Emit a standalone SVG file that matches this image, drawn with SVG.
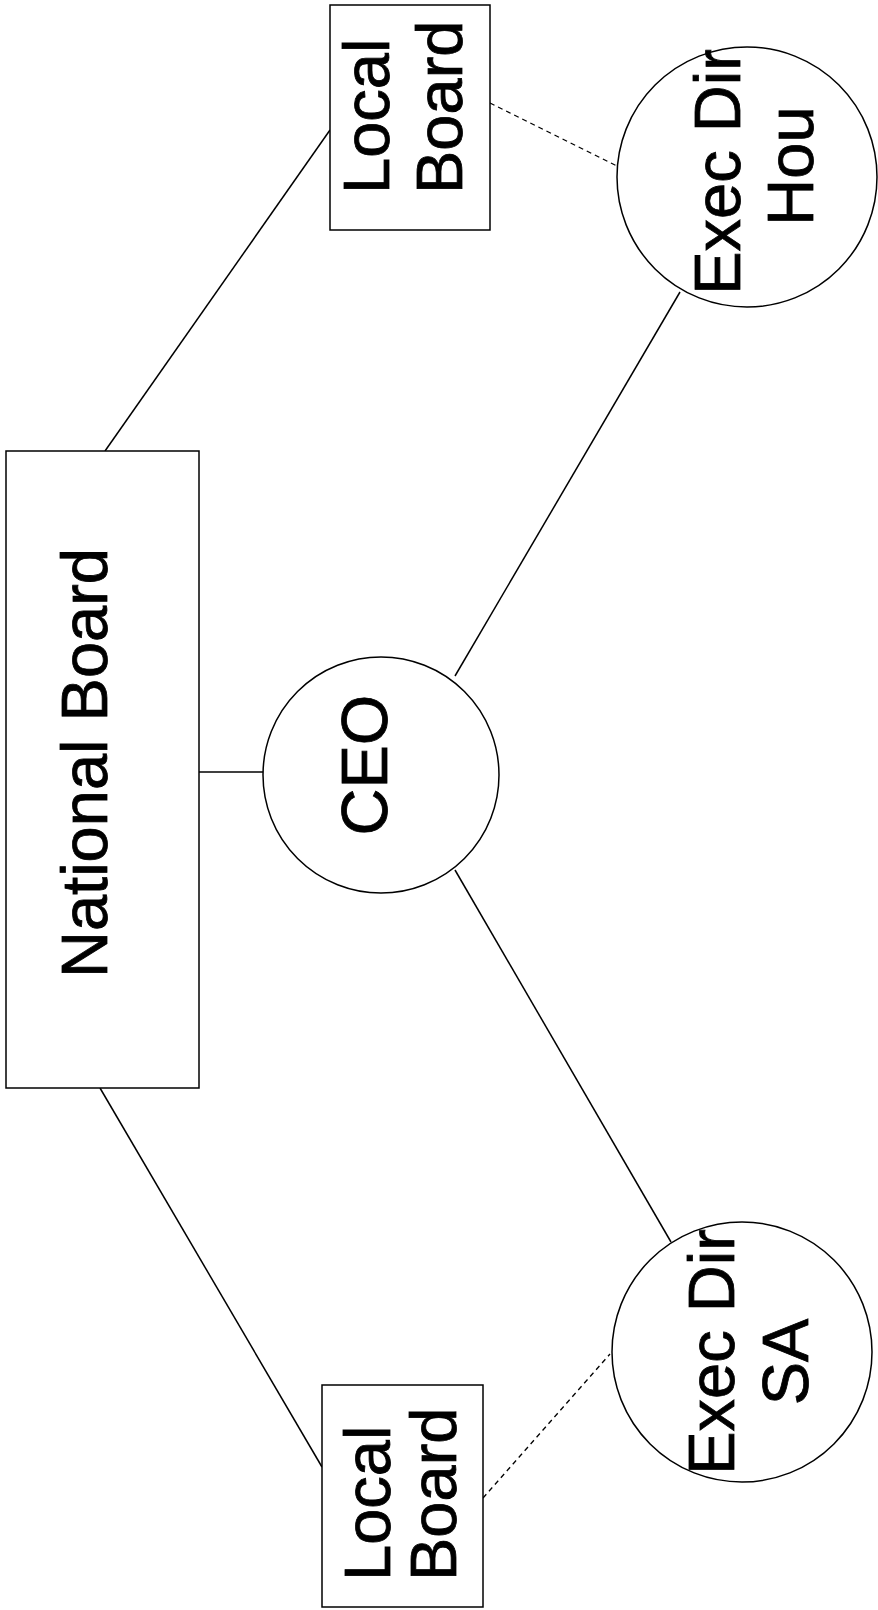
<svg xmlns="http://www.w3.org/2000/svg" width="878" height="1610" viewBox="0 0 878 1610">
<style>
.box{fill:#fff;stroke:#000;stroke-width:1.5}
.ln{stroke:#000;stroke-width:1.5;fill:none}
.dash{stroke:#000;stroke-width:1.3;fill:none;stroke-dasharray:5 4}
.t{font-family:"Liberation Sans",Arial,sans-serif;font-size:65px;fill:#000;stroke:#000;stroke-width:0.8}
</style>
<rect width="878" height="1610" fill="#fff"/>
<g id="connectors">
<line class="ln" x1="105" y1="451" x2="330" y2="130"/>
<line class="ln" x1="100" y1="1088" x2="322" y2="1467"/>
<line class="ln" x1="199" y1="772" x2="263" y2="772"/>
<line class="ln" x1="455" y1="676" x2="680" y2="292"/>
<line class="ln" x1="455" y1="870" x2="671" y2="1242"/>
<line class="dash" x1="490" y1="103" x2="617" y2="166"/>
<line class="dash" x1="483" y1="1498" x2="610" y2="1354"/>
</g>
<g id="national-board">
<rect class="box" x="6" y="451" width="193" height="637"/>
<text class="t" text-anchor="middle" transform="translate(107,763) rotate(-90)">National Board</text>
</g>
<g id="ceo">
<circle class="box" cx="381" cy="775" r="118"/>
<text class="t" text-anchor="middle" transform="translate(387,765) rotate(-90)">CEO</text>
</g>
<g id="local-board-top">
<rect class="box" x="330" y="5" width="160" height="225"/>
<text class="t" transform="translate(389,194) rotate(-90)">Local</text>
<text class="t" transform="translate(462,194) rotate(-90)">Board</text>
</g>
<g id="exec-dir-hou">
<circle class="box" cx="747" cy="177" r="130"/>
<text class="t" text-anchor="middle" transform="translate(740,172) rotate(-90)">Exec Dir</text>
<text class="t" text-anchor="middle" transform="translate(813,166) rotate(-90)">Hou</text>
</g>
<g id="local-board-bottom">
<rect class="box" x="322" y="1385" width="161" height="222"/>
<text class="t" transform="translate(390,1581) rotate(-90)">Local</text>
<text class="t" transform="translate(456,1581) rotate(-90)">Board</text>
</g>
<g id="exec-dir-sa">
<circle class="box" cx="742" cy="1352" r="130"/>
<text class="t" text-anchor="middle" transform="translate(734,1352) rotate(-90)">Exec Dir</text>
<text class="t" text-anchor="middle" transform="translate(808,1362) rotate(-90)">SA</text>
</g>
</svg>
